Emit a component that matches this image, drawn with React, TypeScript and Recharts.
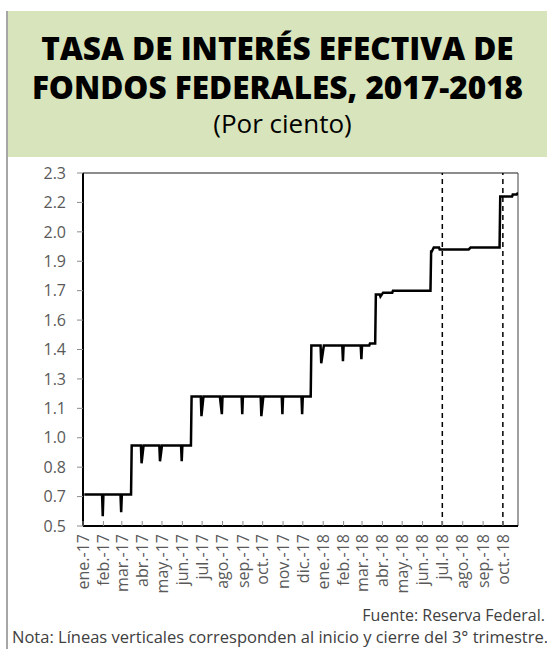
import { Line, LineChart, ReferenceLine, XAxis, YAxis } from "recharts";

// tasa efectiva de fondos federales (días hábiles alrededor de cada cambio)
const fechas = [
  "2017-01-03", "2017-01-30", "2017-01-31", "2017-02-01", "2017-02-27", "2017-02-28",
  "2017-03-01", "2017-03-15", "2017-03-16", "2017-03-30", "2017-03-31", "2017-04-03",
  "2017-04-27", "2017-04-28", "2017-05-01", "2017-05-30", "2017-05-31", "2017-06-01",
  "2017-06-14", "2017-06-15", "2017-06-29", "2017-06-30", "2017-07-03", "2017-07-28",
  "2017-07-31", "2017-08-01", "2017-08-30", "2017-08-31", "2017-09-01", "2017-09-28",
  "2017-09-29", "2017-10-02", "2017-10-30", "2017-10-31", "2017-11-01", "2017-11-29",
  "2017-11-30", "2017-12-01", "2017-12-13", "2017-12-14", "2017-12-28", "2017-12-29",
  "2018-01-02", "2018-01-30", "2018-01-31", "2018-02-01", "2018-02-27", "2018-02-28",
  "2018-03-01", "2018-03-12", "2018-03-13", "2018-03-21", "2018-03-22", "2018-03-28",
  "2018-03-29", "2018-04-02", "2018-04-16", "2018-04-17", "2018-06-13", "2018-06-14",
  "2018-06-15", "2018-06-18", "2018-06-26", "2018-06-27", "2018-08-10", "2018-08-13",
  "2018-09-26", "2018-09-27", "2018-10-15", "2018-10-16", "2018-10-22", "2018-10-24",
];
const tasas = [
  0.66, 0.66, 0.55, 0.66, 0.66, 0.57,
  0.66, 0.66, 0.91, 0.91, 0.82, 0.91,
  0.91, 0.83, 0.91, 0.91, 0.83, 0.91,
  0.91, 1.16, 1.16, 1.06, 1.16, 1.16,
  1.07, 1.16, 1.16, 1.07, 1.16, 1.16,
  1.06, 1.16, 1.16, 1.07, 1.16, 1.16,
  1.07, 1.16, 1.16, 1.42, 1.42, 1.33,
  1.42, 1.42, 1.34, 1.42, 1.42, 1.35,
  1.42, 1.42, 1.43, 1.43, 1.68, 1.68,
  1.67, 1.69, 1.69, 1.70, 1.70, 1.90,
  1.90, 1.92, 1.92, 1.91, 1.91, 1.92,
  1.92, 2.18, 2.18, 2.19, 2.19, 2.20,
];

const mesesTicks = [
  "2017-01-01", "2017-02-01", "2017-03-01", "2017-04-01", "2017-05-01", "2017-06-01",
  "2017-07-01", "2017-08-01", "2017-09-01", "2017-10-01", "2017-11-01", "2017-12-01",
  "2018-01-01", "2018-02-01", "2018-03-01", "2018-04-01", "2018-05-01", "2018-06-01",
  "2018-07-01", "2018-08-01", "2018-09-01", "2018-10-01",
];
const mesesEtiquetas = [
  "ene.-17", "feb.-17", "mar.-17", "abr.-17", "may.-17", "jun.-17",
  "jul.-17", "ago.-17", "sep.-17", "oct.-17", "nov.-17", "dic.-17",
  "ene.-18", "feb.-18", "mar.-18", "abr.-18", "may.-18", "jun.-18",
  "jul.-18", "ago.-18", "sep.-18", "oct.-18",
];

const yTicks = [0.5, 0.65, 0.8, 0.95, 1.1, 1.25, 1.4, 1.55, 1.7, 1.85, 2.0, 2.15, 2.3];
const yEtiquetas = ["0.5", "0.7", "0.8", "1.0", "1.1", "1.3", "1.4", "1.6", "1.7", "1.9", "2.0", "2.2", "2.3"];

const inicio = "2017-01-01";
const fin = "2018-10-24";
const trimestre3 = ["2018-07-01", "2018-10-01"];

const dia = (s: string) =>
  Math.round(Date.UTC(+s.slice(0, 4), +s.slice(5, 7) - 1, +s.slice(8, 10)) / 86400000);

const data = fechas.map((f, i) => ({ t: dia(f), tasa: tasas[i] }));
const xTicks = mesesTicks.map(dia);

const FONT = "'Open Sans', Lato, sans-serif";
const GRIS = "#595959";

if (typeof document !== "undefined") {
  document.body.style.margin = "0";
  document.body.style.overflow = "hidden";
}

function MesTick({ x, y, index }: { x?: number; y?: number; index?: number }) {
  const px = x ?? 0;
  const py = y ?? 0;
  return (
    <g>
      <line x1={px} x2={px} y1={py - 8} y2={py - 13} stroke="#8c8c8c" strokeWidth={1} />
      <text
        x={px}
        y={py}
        dy="0.36em"
        textAnchor="end"
        transform={`rotate(-90, ${px}, ${py})`}
        fontSize={16}
        fontFamily={FONT}
        fill={GRIS}
      >
        {mesesEtiquetas[index ?? 0]}
      </text>
    </g>
  );
}

export default function App() {
  return (
    <div style={{ position: "relative", width: 547, height: 649, background: "#fff", overflow: "hidden" }}>
      <div style={{ position: "absolute", left: 6, top: 11, width: 2, height: 638, background: "#a6a6a6" }} />
      <div
        style={{
          position: "absolute",
          left: 8,
          top: 11,
          width: 539,
          height: 146,
          background: "#d8e4bc",
          fontFamily: FONT,
          textAlign: "center",
          color: "#000",
        }}
      >
        <div style={{ fontSize: 31.5, fontWeight: 800, lineHeight: "39px", marginTop: 17, whiteSpace: "nowrap" }}>
          TASA DE INTERÉS EFECTIVA DE
          <br />
          FONDOS FEDERALES, 2017-2018
        </div>
        <div style={{ fontSize: 26, lineHeight: "30px", marginTop: 2, paddingLeft: 10 }}>(Por ciento)</div>
      </div>

      <div style={{ position: "absolute", left: 0, top: 0 }}>
        <LineChart width={547} height={649} data={data} margin={{ top: 173, right: 29, left: 23, bottom: 53 }}>
          <XAxis
            dataKey="t"
            type="number"
            domain={[dia(inicio), dia(fin)]}
            ticks={xTicks}
            interval={0}
            allowDataOverflow
            height={70}
            tickSize={8}
            tickMargin={0}
            tickLine={false}
            axisLine={{ stroke: "#000", strokeWidth: 2 }}
            tick={<MesTick />}
          />
          <YAxis
            type="number"
            domain={[0.5, 2.3]}
            ticks={yTicks}
            interval={0}
            width={60}
            tickSize={6}
            tickMargin={11}
            tickLine={{ stroke: "#8c8c8c" }}
            axisLine={{ stroke: "#000", strokeWidth: 2 }}
            tick={{ fontSize: 16, fontFamily: FONT, fill: GRIS }}
            tickFormatter={(v: number) => {
              let k = 0;
              yTicks.forEach((tv, i) => {
                if (Math.abs(tv - v) < Math.abs(yTicks[k] - v)) k = i;
              });
              return yEtiquetas[k];
            }}
          />
          <ReferenceLine y={2.3} stroke="#8c8c8c" strokeWidth={2} />
          <ReferenceLine x={dia(fin)} stroke="#404040" strokeWidth={1} />
          {trimestre3.map((f) => (
            <ReferenceLine key={f} x={dia(f)} stroke="#000" strokeWidth={1.5} strokeDasharray="5 4" />
          ))}
          <Line
            type="linear"
            dataKey="tasa"
            stroke="#000"
            strokeWidth={2.5}
            dot={false}
            isAnimationActive={false}
          />
        </LineChart>
      </div>

      <div
        style={{
          position: "absolute",
          right: 2,
          top: 605,
          fontFamily: FONT,
          fontSize: 16,
          lineHeight: "20px",
          color: "#404040",
          whiteSpace: "nowrap",
        }}
      >
        Fuente: Reserva Federal.
      </div>
      <div
        style={{
          position: "absolute",
          left: 12,
          top: 627,
          fontFamily: FONT,
          fontSize: 16.5,
          lineHeight: "20px",
          color: "#404040",
          whiteSpace: "nowrap",
        }}
      >
        Nota: Líneas verticales corresponden al inicio y cierre del 3° trimestre.
      </div>
    </div>
  );
}
